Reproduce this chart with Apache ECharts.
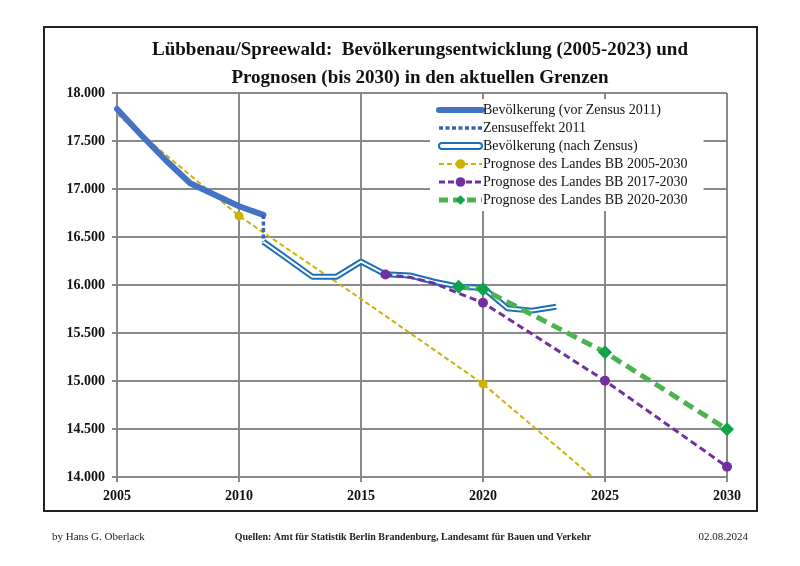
<!DOCTYPE html>
<html>
<head>
<meta charset="utf-8">
<script src="https://cdn.jsdelivr.net/npm/echarts@6/dist/echarts.min.js"></script>
<style>html,body{margin:0;padding:0;background:#fff}#c{width:800px;height:566px}</style>
</head>
<body>
<div id="c"></div>
<script>
// ---- data ----
const yearsVor = [2005, 2006, 2007, 2008, 2009, 2010, 2011];
const popVor = [17833, 17560, 17300, 17060, 16940, 16820, 16730];

const yearsZensus = [2011, 2011];
const popZensus = [16730, 16450];

const yearsNach = [2011, 2012, 2013, 2014, 2015, 2016, 2017, 2018, 2019, 2020, 2021, 2022, 2023];
const popNach = [16450, 16270, 16087, 16087, 16243, 16111, 16100, 16034, 15983, 15972, 15757, 15733, 15774];

const yearsP2005 = [2005, 2010, 2015, 2020, 2025];
const popP2005 = [17780, 16720, 15855, 14970, 13890];
const markP2005 = [false, true, false, true, true];

const yearsP2017 = [2016, 2017, 2018, 2019, 2020, 2025, 2030];
const popP2017 = [16110, 16080, 16018, 15913, 15816, 15003, 14107];
const markP2017 = [true, false, false, false, true, true, true];

const yearsP2020 = [2019, 2020, 2025, 2030];
const popP2020 = [15983, 15955, 15299, 14497];

const xTicks = [2005, 2010, 2015, 2020, 2025, 2030];
const yMin = 14000, yMax = 18000, yStep = 500;

const names = [
  'Bevölkerung (vor Zensus 2011)',
  'Zensuseffekt 2011',
  'Bevölkerung (nach Zensus)',
  'Prognose des Landes BB 2005-2030',
  'Prognose des Landes BB 2017-2030',
  'Prognose des Landes BB 2020-2030'
];

function pairs(xs, ys, marks) {
  return xs.map((x, i) => {
    const item = { value: [x, ys[i]] };
    if (marks && !marks[i]) item.symbol = 'none';
    return item;
  });
}
function fmt(v) {
  return String(v).replace(/\B(?=(\d{3})+(?!\d))/g, '.');
}

const FONT = 'Liberation Serif';
const C_VOR = '#4472C4', C_ZEN = '#3A62B0', C_NACH = '#1B6FB5';
const C_Y = '#CDB300', C_P = '#7030A0', C_G = '#4CB34F', C_GM = '#0FA34A';

const chart = echarts.init(document.getElementById('c'), null, { renderer: 'canvas' });

chart.setOption({
  backgroundColor: '#ffffff',
  animation: false,
  title: {
    text: 'Lübbenau/Spreewald:  Bevölkerungsentwicklung (2005-2023) und\nPrognosen (bis 2030) in den aktuellen Grenzen',
    left: 420,
    top: 36,
    textAlign: 'center',
    padding: 0,
    textStyle: { fontFamily: FONT, fontWeight: 'bold', fontSize: 19, lineHeight: 28, color: '#111' }
  },
  grid: { left: 117, right: 73, top: 93, bottom: 89, containLabel: false },
  legend: {
    left: 430,
    top: 99,
    orient: 'vertical',
    itemGap: 4,
    itemWidth: 43,
    itemHeight: 12,
    padding: [4, 16, 4, 6],
    backgroundColor: '#ffffff',
    selectedMode: false,
    textStyle: { fontFamily: FONT, fontSize: 14, lineHeight: 14, color: '#111', padding: [0, 0, 0, -4] },
    data: [
      { name: names[0], itemStyle: { opacity: 0 }, lineStyle: { color: C_VOR, width: 6, type: 'solid', cap: 'round' } },
      { name: names[1], itemStyle: { opacity: 0 }, lineStyle: { color: C_ZEN, width: 3.5, type: [4, 2.5] } },
      { name: names[2], icon: 'path://M3,0 H39 A3,3 0 0 1 39,6 H3 A3,3 0 0 1 3,0 Z',
        itemStyle: { color: '#ffffff', borderColor: C_NACH, borderWidth: 2 } },
      { name: names[3], itemStyle: { color: C_Y }, lineStyle: { color: C_Y, width: 2, type: [5, 3] } },
      { name: names[4], itemStyle: { color: C_P }, lineStyle: { color: C_P, width: 3, type: [6, 3] } },
      { name: names[5], itemStyle: { color: C_GM }, lineStyle: { color: C_G, width: 5, type: [9, 5] } }
    ]
  },
  xAxis: {
    type: 'value',
    min: 2005, max: 2030, interval: 5,
    axisLine: { lineStyle: { color: '#8a8a8a', width: 2 } },
    axisTick: { show: true, length: 5, lineStyle: { color: '#8a8a8a', width: 2 } },
    splitLine: { show: true, lineStyle: { color: '#8a8a8a', width: 2 } },
    axisLabel: { fontFamily: FONT, fontWeight: 'bold', fontSize: 14, color: '#111', margin: 12,
      formatter: v => String(v) }
  },
  yAxis: {
    type: 'value',
    min: yMin, max: yMax, interval: yStep,
    axisLine: { show: true, lineStyle: { color: '#8a8a8a', width: 2 } },
    axisTick: { show: true, length: 5, lineStyle: { color: '#8a8a8a', width: 2 } },
    splitLine: { show: true, lineStyle: { color: '#8a8a8a', width: 2 } },
    axisLabel: { fontFamily: FONT, fontWeight: 'bold', fontSize: 14, color: '#111', margin: 12,
      formatter: v => fmt(v) }
  },
  series: [
    {
      name: names[3], type: 'line', data: pairs(yearsP2005, popP2005, markP2005),
      symbol: 'circle', symbolSize: 9, z: 3,
      lineStyle: { color: C_Y, width: 2, type: [5, 3] },
      itemStyle: { color: C_Y }
    },
    {
      name: names[0], type: 'line', data: pairs(yearsVor, popVor),
      symbol: 'none', z: 4,
      lineStyle: { color: C_VOR, width: 6, cap: 'round', join: 'round' },
      itemStyle: { color: C_VOR }
    },
    {
      name: names[1], type: 'line', data: pairs(yearsZensus, popZensus),
      symbol: 'none', z: 4,
      lineStyle: { color: C_ZEN, width: 3.5, type: [4, 2.5] },
      itemStyle: { color: C_ZEN }
    },
    {
      name: names[2], type: 'line', data: pairs(yearsNach, popNach),
      symbol: 'none', z: 4,
      lineStyle: { color: C_NACH, width: 6 },
      itemStyle: { color: C_NACH }
    },
    {
      name: 'nachInner', type: 'line', data: pairs(yearsNach, popNach),
      symbol: 'none', z: 5, silent: true,
      lineStyle: { color: '#ffffff', width: 2 },
      itemStyle: { color: '#ffffff' }
    },
    {
      name: names[4], type: 'line', data: pairs(yearsP2017, popP2017, markP2017),
      symbol: 'circle', symbolSize: 10, z: 6,
      lineStyle: { color: C_P, width: 3, type: [7, 4] },
      itemStyle: { color: C_P }
    },
    {
      name: names[5], type: 'line', data: pairs(yearsP2020, popP2020),
      symbol: 'diamond', symbolSize: 14, z: 7,
      lineStyle: { color: C_G, width: 5, type: [11, 6] },
      itemStyle: { color: C_GM }
    }
  ],
  graphic: [
    { type: 'rect', shape: { x: 44, y: 27, width: 713, height: 484 },
      style: { fill: 'none', stroke: '#222', lineWidth: 2 }, z: 100, silent: true },
    { type: 'text', x: 52, y: 537, style: { text: 'by Hans G. Oberlack', font: '11px "Liberation Serif"', fill: '#222', textVerticalAlign: 'middle' } },
    { type: 'text', x: 413, y: 537, style: { text: 'Quellen: Amt für Statistik Berlin Brandenburg, Landesamt für Bauen und Verkehr',
        font: 'bold 10px "Liberation Serif"', fill: '#222', textAlign: 'center', textVerticalAlign: 'middle' } },
    { type: 'text', x: 748, y: 537, style: { text: '02.08.2024', font: '11px "Liberation Serif"', fill: '#222', textAlign: 'right', textVerticalAlign: 'middle' } }
  ]
});
</script>
</body>
</html>
